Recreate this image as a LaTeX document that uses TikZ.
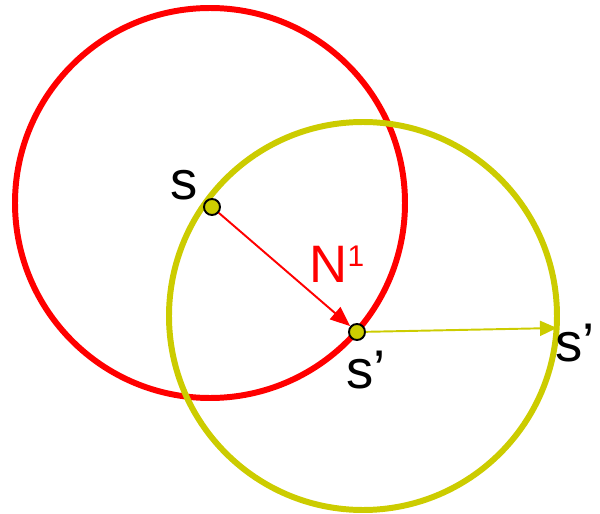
\documentclass[tikz,border=0pt]{standalone}
\usepackage{fontspec}
\setmainfont{Liberation Sans}
\usepackage{tikz}
\usetikzlibrary{arrows.meta,positioning}
\definecolor{olive}{RGB}{204,204,0}

\begin{document}
\begin{tikzpicture}[
  x=0.02cm, y=-0.02cm,
  ring/.style={line width=3.4pt},
  dot/.style={circle, draw, fill=olive, line width=1.1pt, minimum size=0.32cm, inner sep=0pt},
  arrow/.style={-{Triangle[length=4mm, width=3.2mm]}, line width=1.1pt},
  lbl/.style={font=\fontsize{31}{34}\selectfont, inner sep=0pt}
]
  \useasboundingbox (0,0) rectangle (600,514);
  \draw[ring, red] (210,203) circle (195);
  \draw[ring, olive] (363,316) circle (194);

  \node[dot] (s) at (212,207) {};
  \node[dot] (sp) at (357,332) {};
  \coordinate (tip) at (557,328);

  \node[lbl] (slbl) at (184,185) {s};
  \node[lbl] (splbl) at (366,370) {s’};
  \node[lbl] (sright) at (575,343) {s’};
  \node[lbl, text=red, font=\fontsize{30}{34}\selectfont] (n1) at (337,264) {N\raisebox{0.55ex}{\fontsize{17}{20}\selectfont 1}};

  \draw[arrow, red] (s) -- (sp);
  \draw[arrow, olive, -{Triangle[length=3.4mm, width=3mm]}] (sp) -- (tip);
\end{tikzpicture}
\end{document}
